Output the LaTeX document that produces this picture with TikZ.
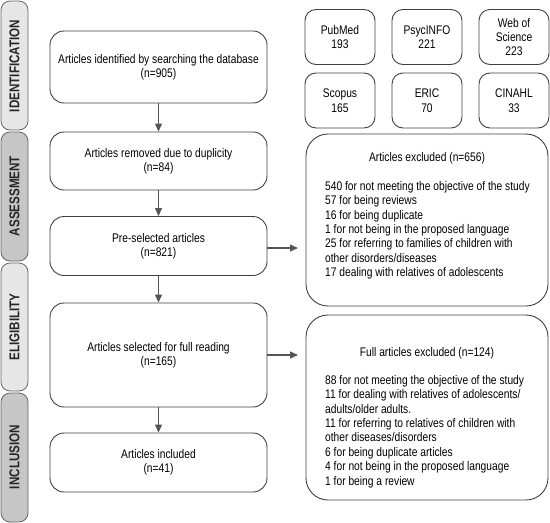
\documentclass[tikz,border=0pt]{standalone}
\usepackage{fontspec}
\setmainfont{Liberation Sans}[FakeStretch=0.82]
\usetikzlibrary{arrows.meta}
\definecolor{stagelight}{HTML}{E6E6E6}
\definecolor{stagedark}{HTML}{C6C6C6}
\definecolor{lineg}{HTML}{555555}
\begin{document}
\begin{tikzpicture}[x=1pt,y=-1pt,
  font=\fontsize{12.5}{14.4}\selectfont,
  stagebox/.style={draw=gray!80!black, line width=0.8pt, rounded corners=9pt},
  mainbox/.style={draw=black!75, line width=0.9pt, rounded corners=14pt, minimum width=217pt, align=center, inner sep=0pt},
  dbbox/.style={draw=black!75, line width=0.9pt, rounded corners=11pt, minimum width=70pt, minimum height=55pt, align=center, inner sep=0pt},
  exbox/.style={draw=black!75, line width=0.9pt, rounded corners=22pt, minimum width=242pt, inner sep=0pt},
  stagetext/.style={rotate=90, font=\fontsize{14.2}{16}\selectfont\bfseries, text=black!85},
  arr/.style={draw=lineg, line width=1.2pt, -{Triangle[length=8pt,width=7pt]}}
]
\useasboundingbox (0,0) rectangle (550,523);
% stages
\draw[stagebox, fill=stagelight] (1,1) rectangle (28,130);
\draw[stagebox, fill=stagedark] (1,132) rectangle (28,261);
\draw[stagebox, fill=stagelight] (1,263) rectangle (28,391);
\draw[stagebox, fill=stagedark] (1,393) rectangle (28,522);
\node[stagetext] (sid) at (14.5,66) {IDENTIFICATION};
\node[stagetext] (sas) at (14.5,196) {ASSESSMENT};
\node[stagetext] (sel) at (14.5,327) {ELIGIBILITY};
\node[stagetext] (sin) at (14.5,457) {INCLUSION};
% main boxes
\node[mainbox, minimum height=72pt] (b1) at (158.5,67) {Articles identified by searching the database\\(n=905)};
\node[mainbox, minimum height=58pt] (b2) at (158.5,161) {Articles removed due to duplicity\\(n=84)};
\node[mainbox, minimum height=59pt] (b3) at (158.5,246) {Pre-selected articles\\(n=821)};
\node[mainbox, minimum height=104pt] (b4) at (158.5,355) {Articles selected for full reading\\(n=165)};
\node[mainbox, minimum height=59pt] (b5) at (158.5,462.5) {Articles included\\(n=41)};
\draw[arr] (b1) -- (b2);
\draw[arr] (b2) -- (b3);
\draw[arr] (b3) -- (b4);
\draw[arr] (b4) -- (b5);
% databases
\node[dbbox] (d1) at (340,37) {PubMed\\193};
\node[dbbox] (d2) at (427,37) {PsycINFO\\221};
\node[dbbox] (d3) at (514,37) {Web of\\Science\\223};
\node[dbbox] (d4) at (340,100.5) {Scopus\\165};
\node[dbbox] (d5) at (427,100.5) {ERIC\\70};
\node[dbbox] (d6) at (514,100.5) {CINAHL\\33};
% excluded
\node[exbox, minimum height=172pt] (e1) at (427,220) {};
\node[anchor=base] (e1t) at (427,161) {Articles excluded (n=656)};
\node[anchor=north west, align=left, inner sep=0pt] (e1l) at (325,181) {540 for not meeting the objective of the study\\57 for being reviews\\16 for being duplicate\\1 for not being in the proposed language\\25 for referring to families of children with\\other disorders/diseases\\17 dealing with relatives of adolescents};
\node[exbox, minimum height=185pt] (e2) at (427,407.5) {};
\node[anchor=base] (e2t) at (427,356) {Full articles excluded (n=124)};
\node[anchor=north west, align=left, inner sep=0pt] (e2l) at (325,375) {88 for not meeting the objective of the study\\11 for dealing with relatives of adolescents/\\adults/older adults.\\11 for referring to relatives of children with\\other diseases/disorders\\6 for being duplicate articles\\4 for not being in the proposed language\\1 for being a review};
\coordinate (a1) at (298,248);
\coordinate (a2) at (298,355);
\draw[arr] (b3.east |- a1) -- (a1);
\draw[arr] (b4.east |- a2) -- (a2);
\end{tikzpicture}
\end{document}
